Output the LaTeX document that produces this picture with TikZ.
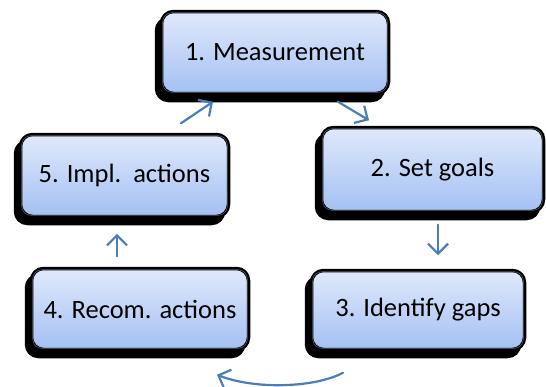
\documentclass[tikz,border=0pt]{standalone}
\usepackage{fontspec}
\setmainfont{Carlito}
\usetikzlibrary{arrows.meta,shadows}
\definecolor{boxtop}{HTML}{E0E9FB}
\definecolor{boxbot}{HTML}{A3C0F3}
\definecolor{arrowblue}{HTML}{4A7EBB}
\definecolor{bevelcol}{HTML}{8C9AB4}
\tikzset{
  box/.style={draw=black, line width=3.5pt, rounded corners=12pt,
    top color=boxtop, bottom color=boxbot,
    general shadow={fill=black, draw=black, line width=3.5pt, shadow xshift=-5pt, shadow yshift=-7pt},
    font=\fontsize{26.5}{30}\selectfont, text=black, inner sep=0pt},
  bevel/.style={draw=bevelcol, draw opacity=0.6, line width=0.6pt, rounded corners=9pt},
  flow/.style={draw=arrowblue, line width=2.2pt, line cap=round,
    -{Straight Barb[length=10pt,width=20pt,line width=2.2pt]}},
}
\begin{document}
\begin{tikzpicture}[x=1pt,y=1pt]
\useasboundingbox (0,0) rectangle (546,-386);
\node[box, minimum width=227pt, minimum height=82pt] (n1) at (275,-52.5) {1. Measurement};
\node[box, minimum width=222pt, minimum height=84pt] (n2) at (432.5,-169.5) {2. Set goals};
\node[box, minimum width=213pt, minimum height=79pt] (n3) at (418,-310) {3. Identify gaps};
\node[box, minimum width=217pt, minimum height=81pt] (n4) at (140,-309) {4. Recom. actions};
\node[box, minimum width=208pt, minimum height=82pt] (n5) at (124.5,-175.5) {5. Impl.\ \ actions\hspace{16pt}};
\foreach \n in {n1,n2,n3,n4,n5}{
  \draw[bevel] ([shift={(3,-3)}]\n.north west) rectangle ([shift={(-3,3)}]\n.south east);
}
\draw[flow] ([shift={(63,-6.5)}]n1.south) -- ([shift={(-63.5,5.5)}]n2.north);
\draw[flow] ([shift={(5.5,-11.5)}]n2.south) -- ([shift={(20,13.5)}]n3.north);
\draw[flow] ([shift={(-75,-21.5)}]n3.south) .. controls +(-28,-15) and +(38,-15) .. ([shift={(77,-23.5)}]n4.south);
\draw[flow] ([shift={(-23,10.5)}]n4.north) -- ([shift={(-7.5,-15.5)}]n5.south);
\draw[flow] ([shift={(56.5,9.5)}]n5.north) -- ([shift={(-62,-6.5)}]n1.south);
\end{tikzpicture}
\end{document}
